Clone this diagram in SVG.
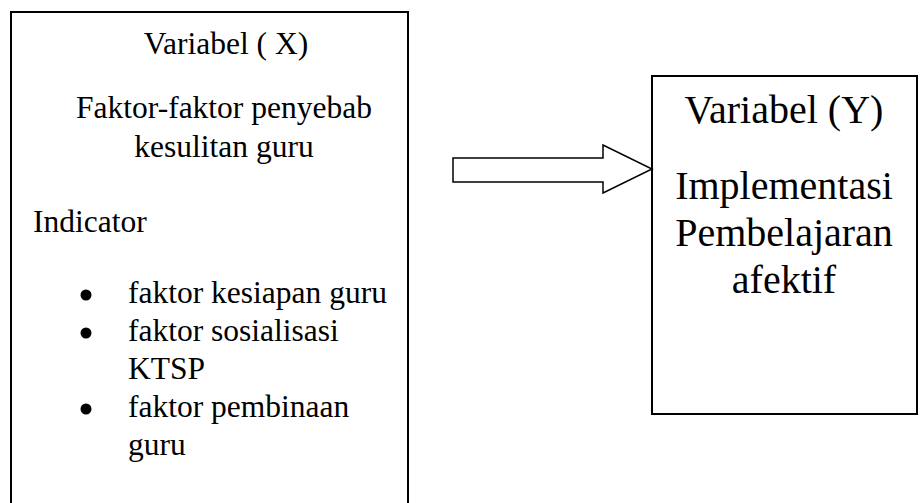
<svg xmlns="http://www.w3.org/2000/svg" width="923" height="503" viewBox="0 0 923 503">
<style>
.box{fill:#fff;stroke:#000;stroke-width:2}
text{font-family:'Liberation Serif','Times New Roman',serif;fill:#000}
.l{font-size:31.5px}
.r{font-size:40px}
.m{text-anchor:middle}
</style>
<rect width="923" height="503" fill="#fff"/>
<g id="nodeX" font-family="Liberation Serif, serif">
<path class="box" d="M11,510 L11,12 L408,12 L408,510"/>
<text class="l m" x="226" y="54">Variabel ( X)</text>
<text class="l m" x="224" y="118">Faktor-faktor penyebab</text>
<text class="l m" x="224" y="157">kesulitan guru</text>
<text class="l" x="33" y="232">Indicator</text>
<circle cx="86" cy="295" r="5.5"/>
<text class="l" x="128" y="303">faktor kesiapan guru</text>
<circle cx="86" cy="333" r="5.5"/>
<text class="l" x="128" y="341">faktor sosialisasi</text>
<text class="l" x="128" y="379">KTSP</text>
<circle cx="86" cy="409" r="5.5"/>
<text class="l" x="128" y="417">faktor pembinaan</text>
<text class="l" x="128" y="455">guru</text>
</g>
<g id="nodeY" font-family="Liberation Serif, serif">
<rect class="box" x="652" y="76" width="265" height="338"/>
<text class="r m" x="784" y="123">Variabel (Y)</text>
<text class="r m" x="784" y="199">Implementasi</text>
<text class="r m" x="784" y="246">Pembelajaran</text>
<text class="r m" x="784" y="293">afektif</text>
</g>
<g id="connectors">
<path d="M453,158 L603,158 L603,145 L652,169 L603,193 L603,182 L453,182 Z" fill="#fff" stroke="#000" stroke-width="1.5"/>
</g>
</svg>
